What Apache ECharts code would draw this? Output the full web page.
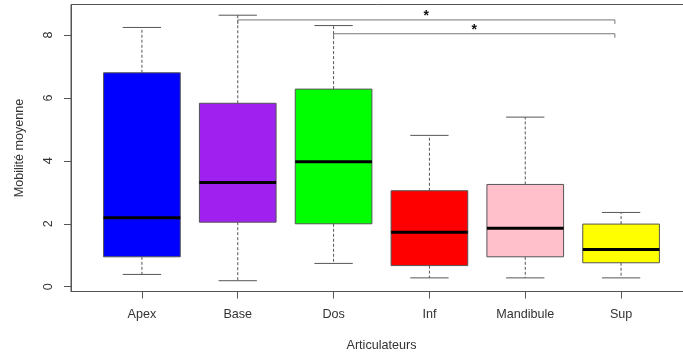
<!DOCTYPE html>
<html>
<head>
<meta charset="utf-8">
<script src="https://cdn.jsdelivr.net/npm/echarts@6/dist/echarts.min.js"></script>
<style>
  html, body { margin: 0; padding: 0; background: #fff; }
  #chart { width: 683px; height: 355px; }
</style>
</head>
<body>
<div id="chart"></div>
<script>
// Mobilité moyenne par articulateur : résumé des boîtes à moustaches
const categories  = ['Apex', 'Base', 'Dos', 'Inf', 'Mandibule', 'Sup'];
const lowWhisker  = [0.39, 0.19, 0.74, 0.28, 0.28, 0.28];
const lowerQuart  = [0.95, 2.05, 2.00, 0.67, 0.95, 0.76];
const medians     = [2.19, 3.31, 3.97, 1.73, 1.86, 1.18];
const upperQuart  = [6.80, 5.83, 6.28, 3.05, 3.25, 1.99];
const highWhisker = [8.24, 8.63, 8.30, 4.81, 5.39, 2.36];
const boxColors   = ['#0000FF', '#A020F0', '#00FF00', '#FF0000', '#FFC0CB', '#FFFF00'];

// Comparaisons significatives (crochets au-dessus des boîtes)
const bracketFrom  = ['Base', 'Dos'];
const bracketTo    = ['Sup', 'Sup'];
const bracketLevel = [8.48, 8.04];
const bracketLabel = ['*', '*'];

const yTicks = [0, 2, 4, 6, 8];
const positions = categories.map((_, i) => i + 1);

const FONT = "'Liberation Sans', Arial, Helvetica, sans-serif";
const FONT_SIZE = 12.6;
const TEXT = '#333';
const LINE = '#555';

const boxData = categories.map((c, i) => [
  positions[i], lowWhisker[i], lowerQuart[i], medians[i], upperQuart[i], highWhisker[i]
]);

const bracketData = bracketFrom.map((f, i) => [
  categories.indexOf(f) + 1, categories.indexOf(bracketTo[i]) + 1, bracketLevel[i]
]);

function renderBox(params, api) {
  const x = api.value(0);
  const pLow = api.coord([x, api.value(1)]);
  const pQ1 = api.coord([x, api.value(2)]);
  const pMed = api.coord([x, api.value(3)]);
  const pQ3 = api.coord([x, api.value(4)]);
  const pHigh = api.coord([x, api.value(5)]);
  const boxW = api.size([0.8, 0])[0];
  const capW = boxW / 2;
  const cx = pMed[0];
  const dash = { stroke: LINE, lineWidth: 1, lineDash: [3, 2] };
  const solid = { stroke: LINE, lineWidth: 1 };
  return {
    type: 'group',
    children: [
      { type: 'line', shape: { x1: cx, y1: pQ3[1], x2: cx, y2: pHigh[1] }, style: dash },
      { type: 'line', shape: { x1: cx, y1: pQ1[1], x2: cx, y2: pLow[1] }, style: dash },
      { type: 'line', shape: { x1: cx - capW / 2, y1: pHigh[1], x2: cx + capW / 2, y2: pHigh[1] }, style: solid },
      { type: 'line', shape: { x1: cx - capW / 2, y1: pLow[1], x2: cx + capW / 2, y2: pLow[1] }, style: solid },
      {
        type: 'rect',
        shape: { x: cx - boxW / 2, y: pQ3[1], width: boxW, height: pQ1[1] - pQ3[1] },
        style: { fill: boxColors[params.dataIndex], stroke: LINE, lineWidth: 1 }
      },
      { type: 'line', shape: { x1: cx - boxW / 2, y1: pMed[1], x2: cx + boxW / 2, y2: pMed[1] },
        style: { stroke: '#000', lineWidth: 3 } }
    ]
  };
}

function renderBracket(params, api) {
  const a = api.coord([api.value(0), api.value(2)]);
  const b = api.coord([api.value(1) - 0.065, api.value(2)]);
  const drop = 4;
  return {
    type: 'group',
    children: [
      {
        type: 'polyline',
        shape: { points: [[a[0], a[1] + drop], [a[0], a[1]], [b[0], b[1]], [b[0], b[1] + drop]] },
        style: { stroke: '#777', lineWidth: 1, fill: null }
      },
      {
        type: 'text',
        x: (a[0] + b[0]) / 2, y: a[1] + 3,
        style: {
          text: bracketLabel[params.dataIndex], fill: '#111',
          font: 'bold 14px ' + FONT, align: 'center', verticalAlign: 'bottom'
        }
      }
    ]
  };
}

const chart = echarts.init(document.getElementById('chart'), null, { renderer: 'canvas' });
chart.setOption({
  animation: false,
  backgroundColor: '#fff',
  grid: {
    left: 71, top: 4.5, width: 621, height: 287,
    outerBoundsMode: 'none', containLabel: false,
    show: true, borderColor: LINE, borderWidth: 1, backgroundColor: 'transparent'
  },
  xAxis: {
    type: 'value', min: 0.26, max: 6.74,
    splitLine: { show: false },
    axisLine: { show: true, onZero: false, lineStyle: { color: LINE } },
    axisTick: { show: true, customValues: positions, length: 7, lineStyle: { color: LINE } },
    axisLabel: {
      customValues: positions, margin: 17,
      formatter: v => categories[Math.round(v) - 1],
      color: TEXT, fontSize: FONT_SIZE, fontFamily: FONT
    },
    name: 'Articulateurs', nameLocation: 'middle', nameGap: 48,
    nameTextStyle: { color: TEXT, fontSize: FONT_SIZE, fontFamily: FONT }
  },
  yAxis: {
    type: 'value', min: -0.153, max: 8.97,
    splitLine: { show: false },
    axisLine: { show: true, onZero: false, lineStyle: { color: LINE } },
    axisTick: { show: true, customValues: yTicks, length: 7, lineStyle: { color: LINE } },
    axisLabel: {
      customValues: yTicks, margin: 16, rotate: 90,
      color: TEXT, fontSize: FONT_SIZE, fontFamily: FONT
    },
    name: 'Mobilité moyenne', nameLocation: 'middle', nameGap: 45, nameRotate: 90,
    nameTextStyle: { color: TEXT, fontSize: FONT_SIZE, fontFamily: FONT }
  },
  series: [
    { type: 'custom', renderItem: renderBox, data: boxData, encode: { x: 0, y: [1, 5] }, z: 3 },
    { type: 'custom', renderItem: renderBracket, data: bracketData, encode: { x: [0, 1], y: 2 }, z: 4 }
  ]
});
</script>
</body>
</html>
